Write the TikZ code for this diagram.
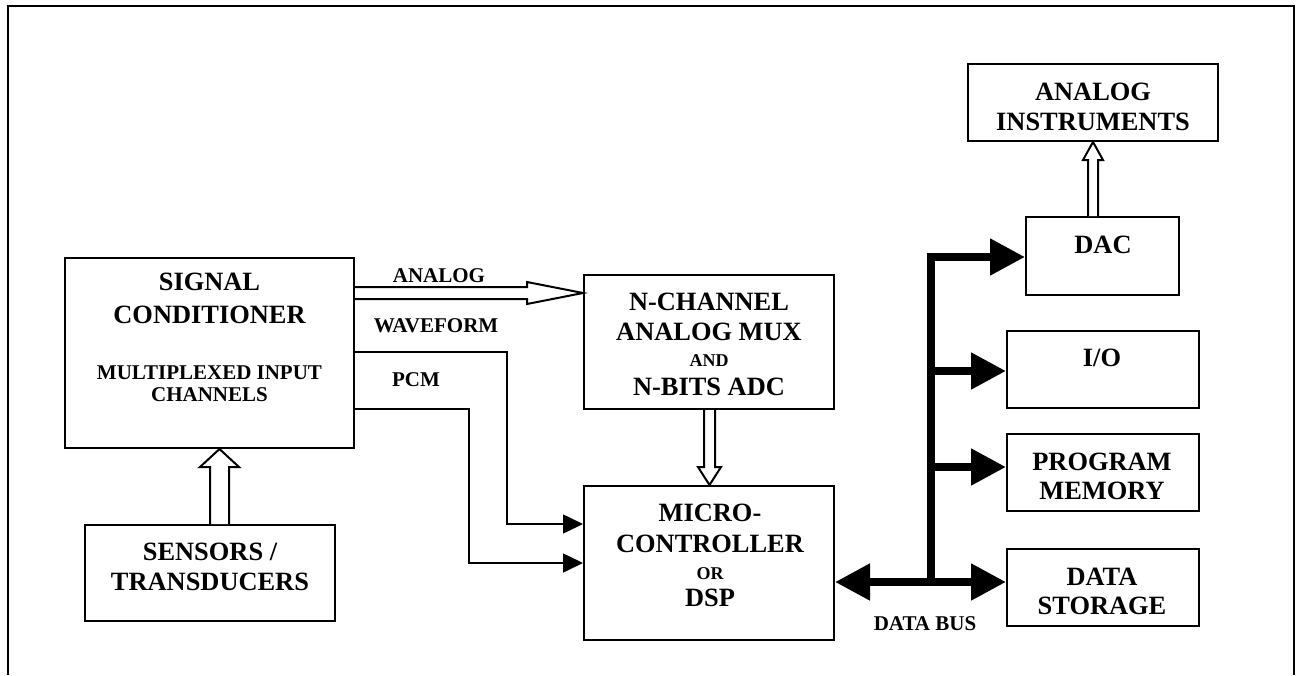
\documentclass[tikz,border=0pt]{standalone}
\usepackage{fontspec}
\setmainfont{Liberation Serif}
\usetikzlibrary{arrows.meta}
\newcommand\fbig{\fontsize{13.2}{15}\selectfont\bfseries}
\newcommand\fsml{\fontsize{10.5}{12}\selectfont\bfseries}
\newcommand\ftny{\fontsize{9}{10}\selectfont\bfseries}
\begin{document}
\begin{tikzpicture}[x=0.5pt,y=-0.5pt,
  blk/.style={draw,line width=1pt,inner sep=0pt,fill=white},
  tb/.style={anchor=base,inner sep=0pt,font=\fbig},
  ts/.style={anchor=base,inner sep=0pt,font=\fsml},
  tt/.style={anchor=base,inner sep=0pt,font=\ftny},
  hol/.style={draw,line width=1pt,fill=white,line join=miter},
  conn/.style={line width=0.8pt,-{Triangle[length=10pt,width=9.5pt]}},
  bus/.style={line width=4pt,line join=miter},
  bustip/.style={-{Triangle[length=17.5pt,width=17.5pt]}}]
\useasboundingbox (0,0) rectangle (1301,675);
% frame
\draw[line width=1.2pt] (8,675) -- (8,6) -- (1294,6) -- (1294,675);
% boxes (sizes in pt = px/2)
\node[blk,minimum width=144.5pt,minimum height=95pt] (sc) at (209.5,353) {};
\node[blk,minimum width=125pt,minimum height=48pt] (sens) at (210,573) {};
\node[blk,minimum width=125pt,minimum height=67pt] (mux) at (709,342) {};
\node[blk,minimum width=125pt,minimum height=77pt] (mcu) at (709,563) {};
\node[blk,minimum width=125pt,minimum height=38.5pt] (ai) at (1093,102.5) {};
\node[blk,minimum width=76.5pt,minimum height=39pt] (dac) at (1102.5,256) {};
\node[blk,minimum width=96pt,minimum height=38.5pt] (io) at (1103,369.5) {};
\node[blk,minimum width=96pt,minimum height=38.5pt] (pm) at (1103,472.5) {};
\node[blk,minimum width=96pt,minimum height=38.5pt] (ds) at (1103,587.5) {};
% box texts
\node[tb] (sc1) at (209.5,290.5) {SIGNAL};
\node[tb] (sc2) at (209.5,323.5) {CONDITIONER};
\node[ts] (sc3) at (209.5,379) {MULTIPLEXED INPUT};
\node[ts] (sc4) at (209.5,401) {CHANNELS};
\node[tb] (se1) at (210,560.5) {SENSORS /};
\node[tb] (se2) at (210,590.5) {TRANSDUCERS};
\node[tb] (mx1) at (709,310.5) {N-CHANNEL};
\node[tb] (mx2) at (709,340.5) {ANALOG MUX};
\node[tt] (mx3) at (709,366) {AND};
\node[tb] (mx4) at (709,395.5) {N-BITS ADC};
\node[tb] (mc1) at (710,521.5) {MICRO-};
\node[tb] (mc2) at (710,552.5) {CONTROLLER};
\node[tt] (mc3) at (710,579) {OR};
\node[tb] (mc4) at (710,606.5) {DSP};
\node[tb] (ai1) at (1093,100.5) {ANALOG};
\node[tb] (ai2) at (1093,130.5) {INSTRUMENTS};
\node[tb] (dc1) at (1103,253.5) {DAC};
\node[tb] (io1) at (1102,366.5) {I/O};
\node[tb] (pm1) at (1102,470.5) {PROGRAM};
\node[tb] (pm2) at (1102,499.5) {MEMORY};
\node[tb] (ds1) at (1102,585.5) {DATA};
\node[tb] (ds2) at (1102,614.5) {STORAGE};
% labels
\node[ts] (lan) at (439,282) {ANALOG};
\node[ts] (lwf) at (436,332) {WAVEFORM};
\node[ts] (lpc) at (416,386) {PCM};
\node[ts] (ldb) at (925,630) {DATA BUS};
% hollow arrows
\draw[hol] (210,0 |- sens.north) -- (210,467) -- (200,467) -- (219.5,0 |- sc.south)
  -- (239,467) -- (229,467) -- (229,0 |- sens.north);
\draw[hol] (sc.east |- 0,287) -- (527,287) -- (527,282) -- (mux.west |- 0,293)
  -- (527,304) -- (527,299) -- (sc.east |- 0,299);
\draw[hol] (704,0 |- mux.south) -- (704,467) -- (698,467) -- (709.5,0 |- mcu.north)
  -- (721,467) -- (715,467) -- (715,0 |- mux.south);
\draw[hol] (1088,0 |- dac.north) -- (1088,160) -- (1083,160) -- (1093,0 |- ai.south)
  -- (1103,160) -- (1098,160) -- (1098,0 |- dac.north);
% PCM lines
\draw[conn] (sc.east |- 0,352) -- (507,352) |- (mcu.west |- 0,524);
\draw[conn] (sc.east |- 0,409) -- (469,409) |- (mcu.west |- 0,563);
% data bus
\draw[bus,{Triangle[length=17.5pt,width=17.5pt]}-{Triangle[length=17.5pt,width=17.5pt]}]
  (mcu.east |- 0,582) -- (ds.west |- 0,582);
\draw[bus,bustip] (931,584) |- (dac.west |- 0,257);
\draw[bus,bustip] (931,371) -- (io.west |- 0,371);
\draw[bus,bustip] (931,467) -- (pm.west |- 0,467);
\end{tikzpicture}
\end{document}
